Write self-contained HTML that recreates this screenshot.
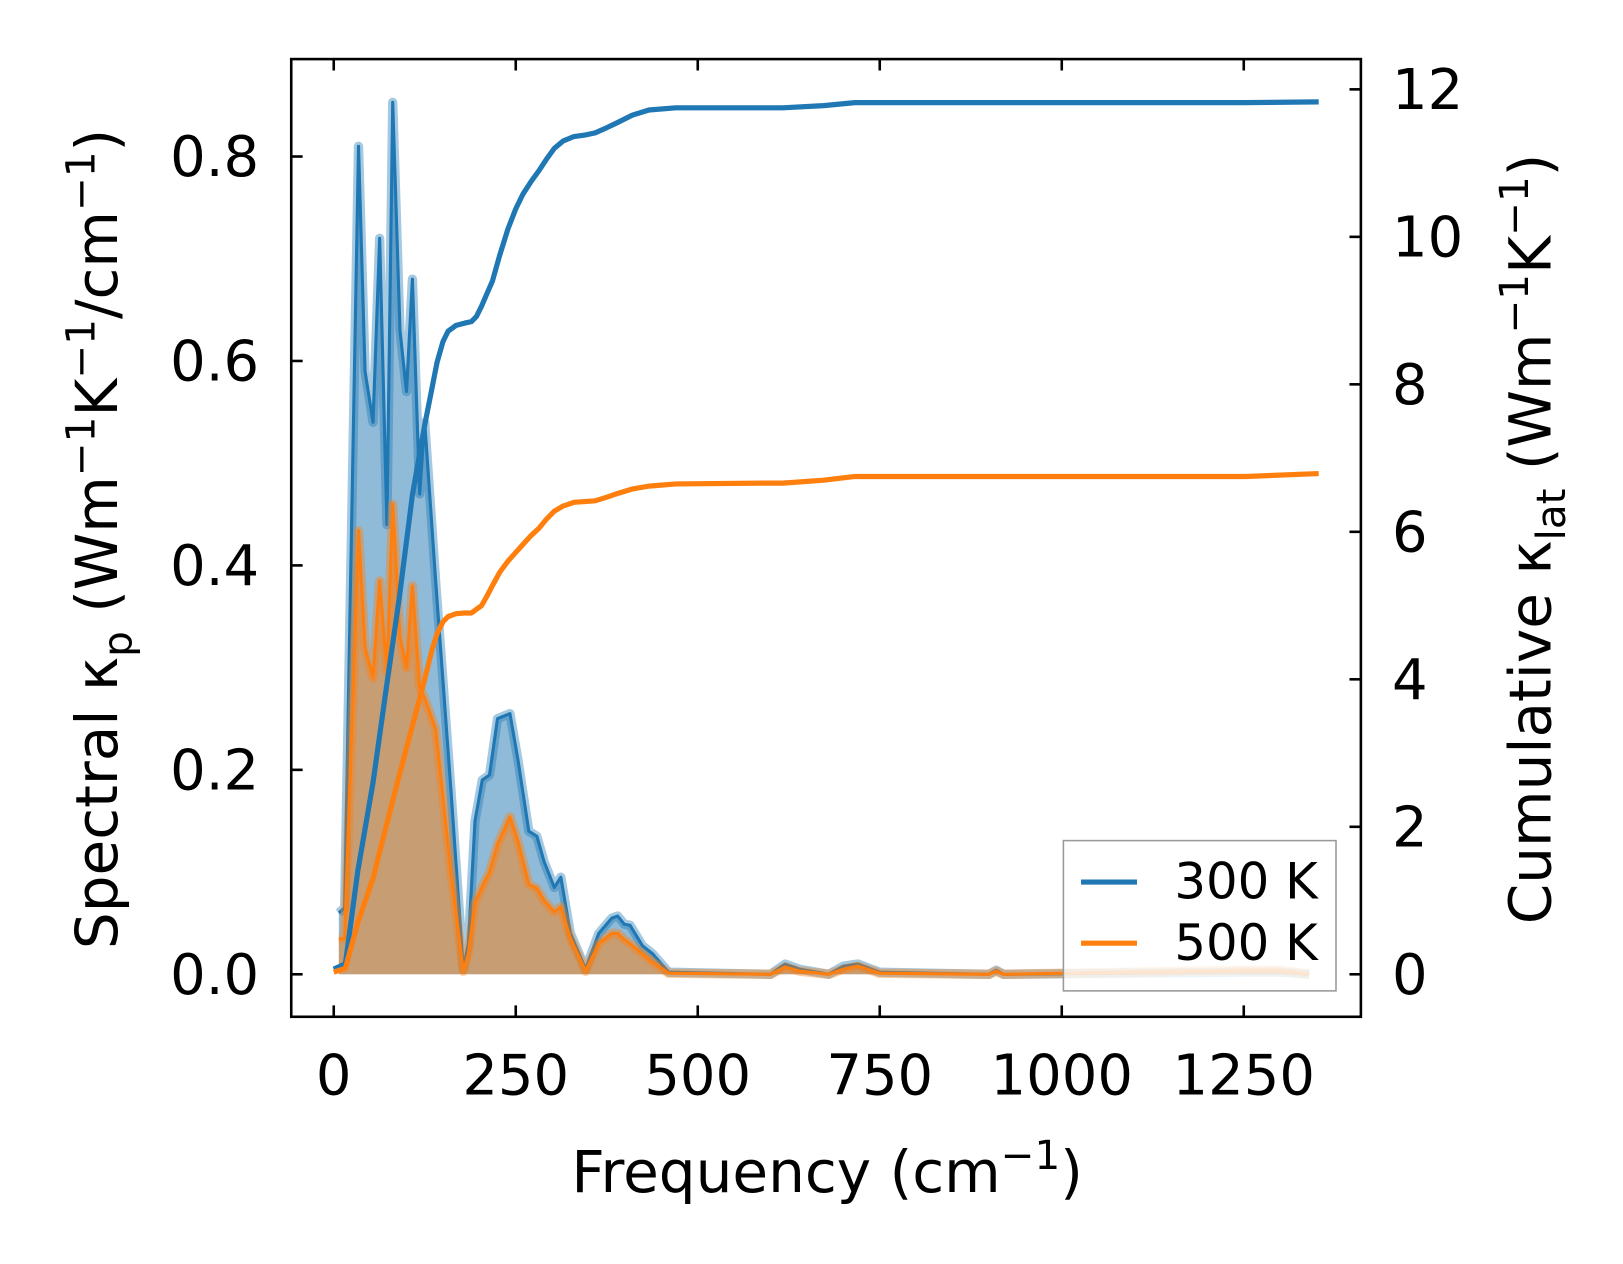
<!DOCTYPE html>
<html><head><meta charset="utf-8"><style>
body{margin:0;background:#fff;}
svg{display:block;font-family:"DejaVu Sans","Liberation Sans",sans-serif;}
</style></head><body>
<svg id="chart" width="1623" height="1264" viewBox="0 0 1565.9 1219.5">
<g id="plot"></g>
<rect x="281" y="57" width="1032" height="924" fill="none" stroke="#000" stroke-width="2.5"/>
<g id="ticks"></g>
<text x="798" y="1150" font-size="56" text-anchor="middle">Frequency (cm<tspan dy="-22" font-size="39">−1</tspan><tspan dy="22">)</tspan></text>
<text transform="translate(113,520) rotate(-90)" font-size="56" text-anchor="middle">Spectral κ<tspan dy="14" font-size="39">p</tspan><tspan dy="-14"> (Wm</tspan><tspan dy="-22" font-size="39">−1</tspan><tspan dy="22">K</tspan><tspan dy="-22" font-size="39">−1</tspan><tspan dy="22">/cm</tspan><tspan dy="-22" font-size="39">−1</tspan><tspan dy="22">)</tspan></text>
<text transform="translate(1496,520) rotate(-90)" font-size="56" text-anchor="middle">Cumulative κ<tspan dy="14" font-size="39">lat</tspan><tspan dy="-14"> (Wm</tspan><tspan dy="-22" font-size="39">−1</tspan><tspan dy="22">K</tspan><tspan dy="-22" font-size="39">−1</tspan><tspan dy="22">)</tspan></text>
<g>
<rect x="1026" y="811" width="263" height="145" fill="#fff" fill-opacity="0.8" stroke="#999" stroke-width="1.5"/>
<line x1="1043" y1="851" x2="1097" y2="851" stroke="#1f77b4" stroke-width="5"/>
<text x="1133" y="867" font-size="48">300 K</text>
<line x1="1043" y1="910" x2="1097" y2="910" stroke="#ff7f0e" stroke-width="5"/>
<text x="1133" y="926" font-size="48">500 K</text>
</g>
</svg>
<script>
const freqS300=[7,15,34,43,54,63,73,81,91,100,108,118,125,140,161,178,185,194,204,214,225,242,253,268,279,289,303,312,325,346,364,382,390,399,407,424,438,460,600,620,640,680,700,720,750,900,910,920,1250,1300,1340];
const specS300=[0.06,0.065,0.81,0.59,0.54,0.72,0.44,0.853,0.63,0.57,0.68,0.47,0.54,0.385,0.18,0.005,0.03,0.15,0.19,0.195,0.25,0.255,0.21,0.14,0.135,0.11,0.085,0.095,0.04,0.005,0.04,0.055,0.057,0.049,0.048,0.028,0.02,0.002,0,0.01,0.005,0,0.008,0.01,0.002,0,0.004,0,0.002,0.002,0];
const specS500=[0.035,0.035,0.434,0.32,0.29,0.385,0.296,0.46,0.33,0.30,0.38,0.28,0.27,0.24,0.1,0.003,0.02,0.07,0.086,0.1,0.127,0.154,0.13,0.088,0.084,0.072,0.061,0.066,0.035,0.003,0.03,0.04,0.04,0.034,0.03,0.02,0.012,0.001,0,0.007,0.003,0,0.005,0.008,0.001,0,0.003,0,0.004,0.004,0];
const freqCum=[0,16,33,54,71,90,108,125,135,142,150,157,168,180,189,196,203,210,218,228,239,250,260,271,282,292,303,315,330,345,359,375,390,410,433,470,589,617,673,716,1253,1353];
const cum300=[0.07,0.14,1.4,2.6,3.8,5.1,6.5,7.45,7.95,8.3,8.58,8.72,8.8,8.83,8.85,8.92,9.06,9.22,9.4,9.75,10.1,10.38,10.58,10.75,10.9,11.05,11.2,11.3,11.36,11.38,11.41,11.48,11.55,11.65,11.72,11.75,11.75,11.75,11.78,11.82,11.82,11.83];
const cum500=[0.03,0.08,0.7,1.3,1.97,2.7,3.37,4.0,4.4,4.62,4.78,4.85,4.89,4.9,4.9,4.95,5.0,5.12,5.27,5.45,5.6,5.72,5.83,5.95,6.05,6.17,6.28,6.35,6.4,6.41,6.42,6.47,6.52,6.58,6.62,6.65,6.66,6.66,6.7,6.75,6.75,6.79];
const xTicks=[0,250,500,750,1000,1250];
const yLeftTicks=[0.0,0.2,0.4,0.6,0.8];
const yRightTicks=[0,2,4,6,8,10,12];

const X=f=>322+f*0.7024;
const YL=v=>940-v*986.25;
const YR=v=>940-v*71.15;
const NS='http://www.w3.org/2000/svg';
const plot=document.getElementById('plot');
const ticks=document.getElementById('ticks');
function mk(tag,attrs,parent){const e=document.createElementNS(NS,tag);for(const k in attrs)e.setAttribute(k,attrs[k]);parent.appendChild(e);return e;}
function pts(fx,vals,ys){return fx.map((f,i)=>X(f).toFixed(1)+','+ys(vals[i]).toFixed(1)).join(' ');}
function area(vals,fill,stroke,name){
  const p=pts(freqS300,vals,YL);
  const poly=mk('polygon',{points:X(freqS300[0])+','+YL(0)+' '+p+' '+X(freqS300[freqS300.length-1])+','+YL(0),fill:fill,'fill-opacity':0.5,stroke:'none'},plot);
  
  
  const halo=mk('polyline',{points:p,fill:'none',stroke:stroke,'stroke-opacity':0.4,'stroke-width':9,'stroke-linejoin':'round'},plot);
  
  
  const l=mk('polyline',{points:p,fill:'none',stroke:stroke,'stroke-width':3,'stroke-linejoin':'round'},plot);
  
  
}
area(specS300,'#1f77b4','#1f77b4','spectral-300k');
area(specS500,'#ff7f0e','#ff7f0e','spectral-500k');
const c3=mk('polyline',{points:pts(freqCum,cum300,YR),fill:'none',stroke:'#1f77b4','stroke-width':5,'stroke-linejoin':'round'},plot);


const c5=mk('polyline',{points:pts(freqCum,cum500,YR),fill:'none',stroke:'#ff7f0e','stroke-width':5,'stroke-linejoin':'round'},plot);



xTicks.forEach(t=>{
  const x=X(t);
  mk('line',{x1:x,y1:981,x2:x,y2:970,stroke:'#000','stroke-width':2.5},ticks);
  mk('line',{x1:x,y1:57,x2:x,y2:68,stroke:'#000','stroke-width':2.5},ticks);
  const tx=mk('text',{x:x,y:1056,'font-size':54,'text-anchor':'middle'},ticks);
  tx.textContent=t;
  
  
});
yLeftTicks.forEach(t=>{
  const y=YL(t);
  mk('line',{x1:281,y1:y,x2:292,y2:y,stroke:'#000','stroke-width':2.5},ticks);
  const tx=mk('text',{x:250,y:y+19,'font-size':54,'text-anchor':'end'},ticks);
  tx.textContent=t.toFixed(1);
  
  
});
yRightTicks.forEach(t=>{
  const y=YR(t);
  mk('line',{x1:1313,y1:y,x2:1302,y2:y,stroke:'#000','stroke-width':2.5},ticks);
  const tx=mk('text',{x:1343,y:y+19,'font-size':54,'text-anchor':'start'},ticks);
  tx.textContent=t;
  
  
});
</script>
</body></html>
